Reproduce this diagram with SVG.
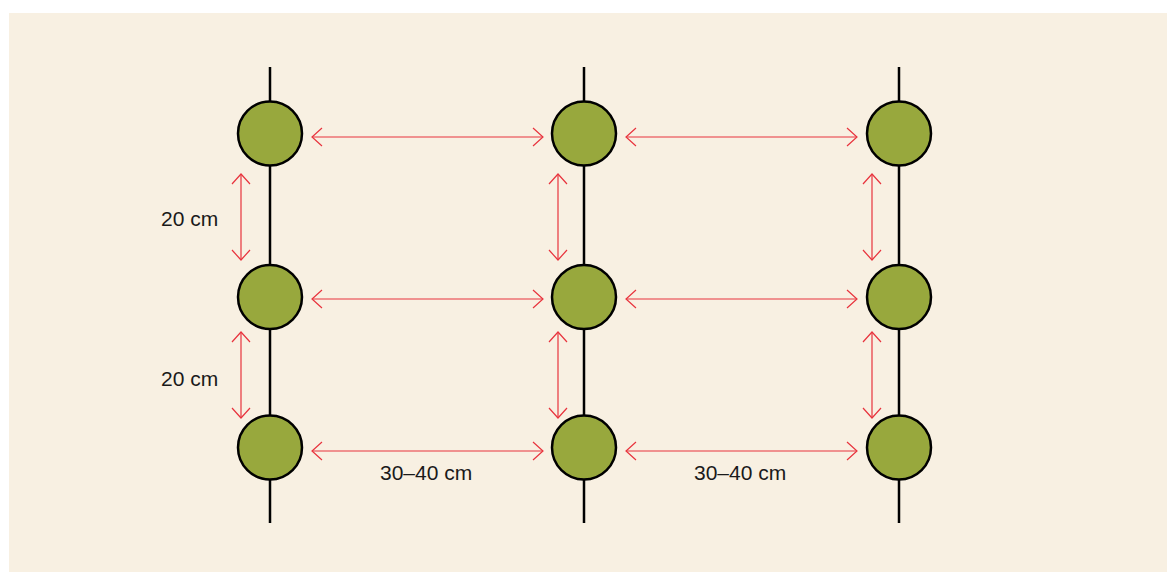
<svg xmlns="http://www.w3.org/2000/svg" width="1167" height="572" viewBox="0 0 1167 572">
<defs>
<style>
.stem{stroke:#000;stroke-width:2.5;fill:none}
.plant{fill:#98A83D;stroke:#000;stroke-width:2.5}
.dim{stroke:#E8333D;stroke-width:1.2;fill:none;marker-start:url(#ah);marker-end:url(#ah)}
.lbl{font-family:"Liberation Sans",Arial,sans-serif;font-size:21px;fill:#1a1a1a}
</style>
<marker id="ah" viewBox="-12 -10 14 20" refX="0" refY="0" markerWidth="14" markerHeight="20" markerUnits="userSpaceOnUse" orient="auto-start-reverse">
<path d="M-10,-9 L0,0 L-10,9" fill="none" stroke="#E8333D" stroke-width="1.2"/>
</marker>
</defs>
<rect x="9" y="13" width="1158" height="559" fill="#F8F0E2"/>
<g id="stems">
<line class="stem" x1="270" y1="67" x2="270" y2="523"/>
<line class="stem" x1="584" y1="67" x2="584" y2="523"/>
<line class="stem" x1="899" y1="67" x2="899" y2="523"/>
</g>
<g id="connectors">
<line class="dim" x1="312" y1="137" x2="543" y2="137"/>
<line class="dim" x1="626" y1="137" x2="857" y2="137"/>
<line class="dim" x1="312" y1="299" x2="543" y2="299"/>
<line class="dim" x1="626" y1="299" x2="857" y2="299"/>
<line class="dim" x1="312" y1="451" x2="543" y2="451"/>
<line class="dim" x1="626" y1="451" x2="857" y2="451"/>
<line class="dim" x1="241" y1="174" x2="241" y2="260"/>
<line class="dim" x1="558" y1="174" x2="558" y2="260"/>
<line class="dim" x1="872" y1="174" x2="872" y2="260"/>
<line class="dim" x1="241" y1="332" x2="241" y2="418"/>
<line class="dim" x1="558" y1="332" x2="558" y2="418"/>
<line class="dim" x1="872" y1="332" x2="872" y2="418"/>
</g>
<g id="p11"><circle class="plant" cx="270" cy="133.5" r="32"/></g>
<g id="p12"><circle class="plant" cx="584" cy="133.5" r="32"/></g>
<g id="p13"><circle class="plant" cx="899" cy="133.5" r="32"/></g>
<g id="p21"><circle class="plant" cx="270" cy="297" r="32"/></g>
<g id="p22"><circle class="plant" cx="584" cy="297" r="32"/></g>
<g id="p23"><circle class="plant" cx="899" cy="297" r="32"/></g>
<g id="p31"><circle class="plant" cx="270" cy="447.5" r="32"/></g>
<g id="p32"><circle class="plant" cx="584" cy="447.5" r="32"/></g>
<g id="p33"><circle class="plant" cx="899" cy="447.5" r="32"/></g>
<g id="labels">
<text class="lbl" x="161" y="225.5">20 cm</text>
<text class="lbl" x="161" y="386">20 cm</text>
<text class="lbl" x="380" y="480">30–40 cm</text>
<text class="lbl" x="694" y="480">30–40 cm</text>
</g>
</svg>
